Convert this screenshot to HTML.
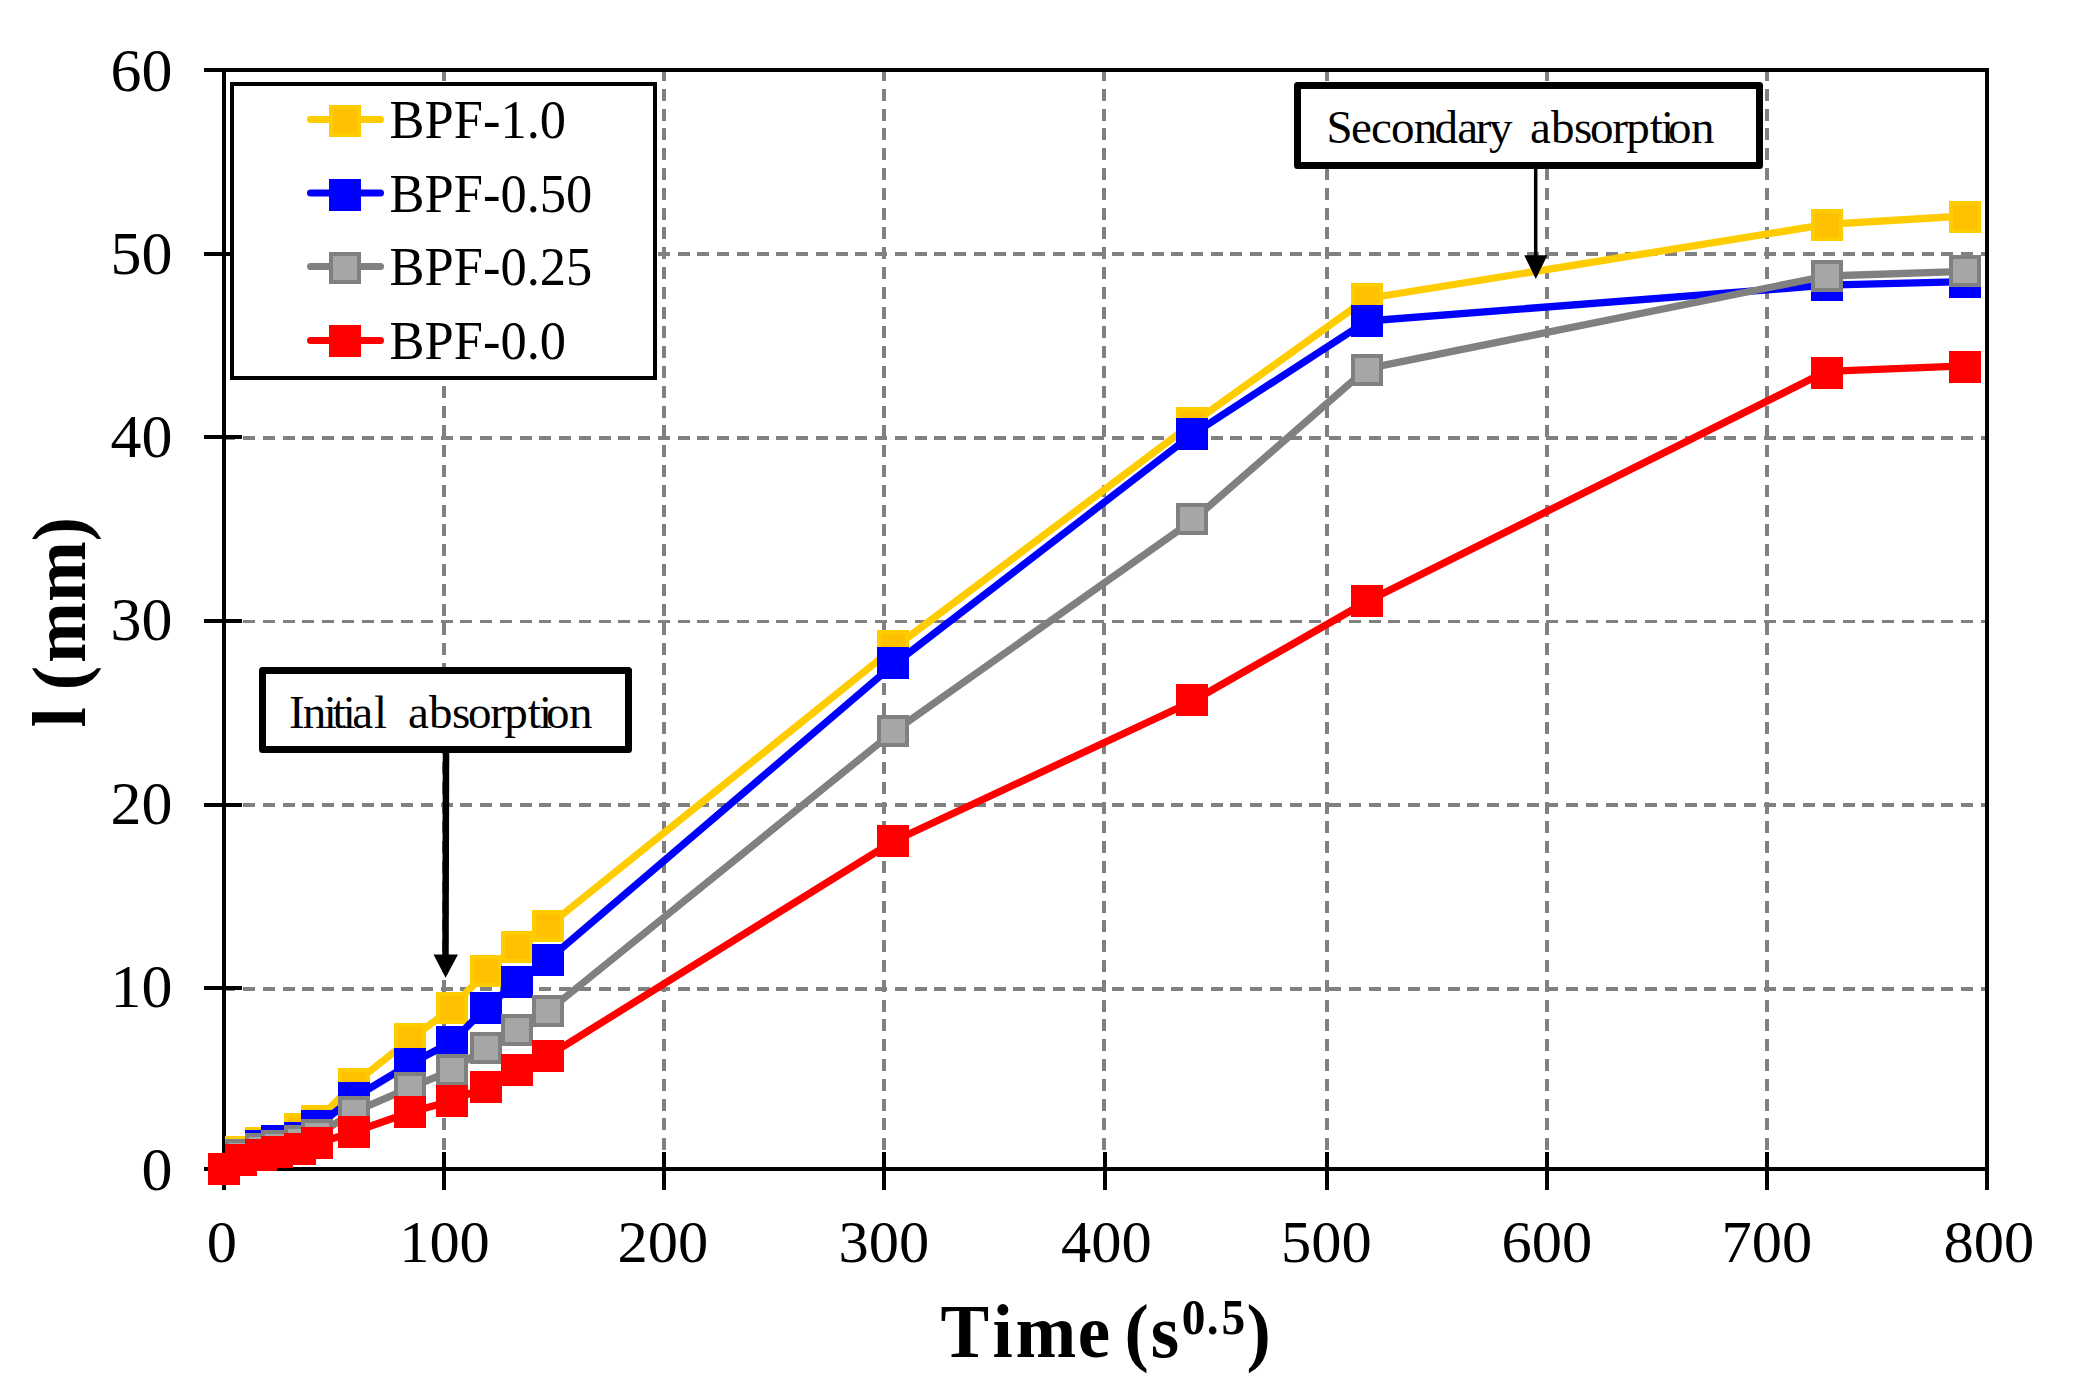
<!DOCTYPE html>
<html lang="en"><head><meta charset="utf-8"><title>Water absorption vs time</title>
<style>
html,body{margin:0;padding:0;background:#fff;}
body{width:2075px;height:1400px;overflow:hidden;}
svg{display:block;}
text{font-family:"Liberation Serif",serif;fill:#000;}
.tk{font-size:59px;}
.ty{font-size:61px;}
.lg{font-size:54px;}
.an{font-size:47px;}
.ti{font-size:77px;font-weight:bold;}
</style></head><body>
<svg width="2075" height="1400" viewBox="0 0 2075 1400">
<rect x="0" y="0" width="2075" height="1400" fill="#fff"/>
<g stroke="#808080" stroke-width="4" stroke-dasharray="12 7.8" fill="none" shape-rendering="crispEdges">
<line x1="444.00" y1="69" x2="444.00" y2="1150.5"/>
<line x1="664.00" y1="69" x2="664.00" y2="1150.5"/>
<line x1="884.00" y1="69" x2="884.00" y2="1150.5"/>
<line x1="1104.00" y1="69" x2="1104.00" y2="1150.5"/>
<line x1="1327.00" y1="69" x2="1327.00" y2="1150.5"/>
<line x1="1547.00" y1="69" x2="1547.00" y2="1150.5"/>
<line x1="1767.00" y1="69" x2="1767.00" y2="1150.5"/>
</g>
<g stroke="#808080" stroke-width="4" stroke-dasharray="12 7.748" fill="none" shape-rendering="crispEdges">
<line x1="223.35" y1="254.00" x2="1987" y2="254.00"/>
<line x1="223.35" y1="438.00" x2="1987" y2="438.00"/>
<line x1="223.35" y1="621.50" x2="1987" y2="621.50" stroke-width="3"/>
<line x1="223.35" y1="805.00" x2="1987" y2="805.00"/>
<line x1="223.35" y1="989.00" x2="1987" y2="989.00"/>
</g>
<g stroke="#000" stroke-width="4" fill="none" shape-rendering="crispEdges">
<line x1="204" y1="70" x2="1989" y2="70"/>
<line x1="204" y1="1169" x2="1989" y2="1169"/>
<line x1="224" y1="68" x2="224" y2="1190"/>
<line x1="1987" y1="68" x2="1987" y2="1190"/>
<line x1="444.00" y1="1152" x2="444.00" y2="1190"/>
<line x1="664.00" y1="1152" x2="664.00" y2="1190"/>
<line x1="884.00" y1="1152" x2="884.00" y2="1190"/>
<line x1="1105.00" y1="1152" x2="1105.00" y2="1190"/>
<line x1="1327.00" y1="1152" x2="1327.00" y2="1190"/>
<line x1="1547.00" y1="1152" x2="1547.00" y2="1190"/>
<line x1="1767.00" y1="1152" x2="1767.00" y2="1190"/>
<line x1="204" y1="253.60" x2="242" y2="253.60"/>
<line x1="204" y1="437.00" x2="242" y2="437.00"/>
<line x1="204" y1="621.00" x2="242" y2="621.00"/>
<line x1="204" y1="805.00" x2="242" y2="805.00"/>
<line x1="204" y1="988.00" x2="242" y2="988.00"/>
</g>
<g>
<polyline points="224.0,1169.0 241.0,1152.0 261.0,1143.0 277.0,1141.0 300.0,1129.0 317.0,1121.0 353.5,1084.0 410.3,1039.3 452.0,1008.1 486.0,971.4 517.0,946.5 548.2,926.0 892.5,649.0 1192.0,423.7 1367.0,298.5 1826.5,224.4 1965.0,216.0" fill="none" stroke="#FFCC00" stroke-width="7.3" stroke-linejoin="round"/>
<rect x="210.0" y="1155.0" width="28" height="28" fill="#FFC000" stroke="#FFCC00" stroke-width="4" shape-rendering="crispEdges"/>
<rect x="227.0" y="1138.0" width="28" height="28" fill="#FFC000" stroke="#FFCC00" stroke-width="4" shape-rendering="crispEdges"/>
<rect x="247.0" y="1129.0" width="28" height="28" fill="#FFC000" stroke="#FFCC00" stroke-width="4" shape-rendering="crispEdges"/>
<rect x="263.0" y="1127.0" width="28" height="28" fill="#FFC000" stroke="#FFCC00" stroke-width="4" shape-rendering="crispEdges"/>
<rect x="286.0" y="1115.0" width="28" height="28" fill="#FFC000" stroke="#FFCC00" stroke-width="4" shape-rendering="crispEdges"/>
<rect x="303.0" y="1107.0" width="28" height="28" fill="#FFC000" stroke="#FFCC00" stroke-width="4" shape-rendering="crispEdges"/>
<rect x="339.5" y="1070.0" width="28" height="28" fill="#FFC000" stroke="#FFCC00" stroke-width="4" shape-rendering="crispEdges"/>
<rect x="396.3" y="1025.3" width="28" height="28" fill="#FFC000" stroke="#FFCC00" stroke-width="4" shape-rendering="crispEdges"/>
<rect x="438.0" y="994.1" width="28" height="28" fill="#FFC000" stroke="#FFCC00" stroke-width="4" shape-rendering="crispEdges"/>
<rect x="472.0" y="957.4" width="28" height="28" fill="#FFC000" stroke="#FFCC00" stroke-width="4" shape-rendering="crispEdges"/>
<rect x="503.0" y="932.5" width="28" height="28" fill="#FFC000" stroke="#FFCC00" stroke-width="4" shape-rendering="crispEdges"/>
<rect x="534.2" y="912.0" width="28" height="28" fill="#FFC000" stroke="#FFCC00" stroke-width="4" shape-rendering="crispEdges"/>
<rect x="878.5" y="632.0" width="28" height="28" fill="#FFC000" stroke="#FFCC00" stroke-width="4" shape-rendering="crispEdges"/>
<rect x="1178.0" y="409.0" width="28" height="28" fill="#FFC000" stroke="#FFCC00" stroke-width="4" shape-rendering="crispEdges"/>
<rect x="1353.0" y="285.0" width="28" height="28" fill="#FFC000" stroke="#FFCC00" stroke-width="4" shape-rendering="crispEdges"/>
<rect x="1812.5" y="211.4" width="28" height="28" fill="#FFC000" stroke="#FFCC00" stroke-width="4" shape-rendering="crispEdges"/>
<rect x="1951.0" y="203.0" width="28" height="28" fill="#FFC000" stroke="#FFCC00" stroke-width="4" shape-rendering="crispEdges"/>
</g>
<g>
<polyline points="224.0,1169.0 241.0,1155.2 261.0,1145.7 277.0,1140.8 300.0,1138.0 317.0,1126.0 353.5,1098.0 410.3,1063.8 452.0,1041.9 486.0,1007.7 517.0,981.8 548.2,959.8 892.5,665.5 1192.0,434.7 1367.0,321.0 1826.5,285.2 1965.0,281.7" fill="none" stroke="#0000FF" stroke-width="7.3" stroke-linejoin="round"/>
<rect x="210.0" y="1155.0" width="28" height="28" fill="#0000FF" stroke="#0000FF" stroke-width="4" shape-rendering="crispEdges"/>
<rect x="227.0" y="1141.2" width="28" height="28" fill="#0000FF" stroke="#0000FF" stroke-width="4" shape-rendering="crispEdges"/>
<rect x="247.0" y="1131.7" width="28" height="28" fill="#0000FF" stroke="#0000FF" stroke-width="4" shape-rendering="crispEdges"/>
<rect x="263.0" y="1126.8" width="28" height="28" fill="#0000FF" stroke="#0000FF" stroke-width="4" shape-rendering="crispEdges"/>
<rect x="286.0" y="1124.0" width="28" height="28" fill="#0000FF" stroke="#0000FF" stroke-width="4" shape-rendering="crispEdges"/>
<rect x="303.0" y="1112.0" width="28" height="28" fill="#0000FF" stroke="#0000FF" stroke-width="4" shape-rendering="crispEdges"/>
<rect x="339.5" y="1084.0" width="28" height="28" fill="#0000FF" stroke="#0000FF" stroke-width="4" shape-rendering="crispEdges"/>
<rect x="396.3" y="1049.8" width="28" height="28" fill="#0000FF" stroke="#0000FF" stroke-width="4" shape-rendering="crispEdges"/>
<rect x="438.0" y="1027.9" width="28" height="28" fill="#0000FF" stroke="#0000FF" stroke-width="4" shape-rendering="crispEdges"/>
<rect x="472.0" y="993.7" width="28" height="28" fill="#0000FF" stroke="#0000FF" stroke-width="4" shape-rendering="crispEdges"/>
<rect x="503.0" y="967.8" width="28" height="28" fill="#0000FF" stroke="#0000FF" stroke-width="4" shape-rendering="crispEdges"/>
<rect x="534.2" y="945.8" width="28" height="28" fill="#0000FF" stroke="#0000FF" stroke-width="4" shape-rendering="crispEdges"/>
<rect x="878.5" y="648.5" width="28" height="28" fill="#0000FF" stroke="#0000FF" stroke-width="4" shape-rendering="crispEdges"/>
<rect x="1178.0" y="420.0" width="28" height="28" fill="#0000FF" stroke="#0000FF" stroke-width="4" shape-rendering="crispEdges"/>
<rect x="1353.0" y="307.0" width="28" height="28" fill="#0000FF" stroke="#0000FF" stroke-width="4" shape-rendering="crispEdges"/>
<rect x="1812.5" y="271.2" width="28" height="28" fill="#0000FF" stroke="#0000FF" stroke-width="4" shape-rendering="crispEdges"/>
<rect x="1951.0" y="267.7" width="28" height="28" fill="#0000FF" stroke="#0000FF" stroke-width="4" shape-rendering="crispEdges"/>
</g>
<g>
<polyline points="224.0,1169.0 241.0,1155.2 261.0,1149.0 277.0,1146.3 300.0,1141.0 317.0,1135.2 353.5,1112.2 410.3,1087.6 452.0,1070.3 486.0,1047.5 517.0,1030.2 548.2,1011.0 892.5,732.5 1192.0,521.0 1367.0,368.6 1826.5,276.0 1965.0,271.3" fill="none" stroke="#808080" stroke-width="7.3" stroke-linejoin="round"/>
<rect x="210.0" y="1155.0" width="28" height="28" fill="#A6A6A6" stroke="#808080" stroke-width="4" shape-rendering="crispEdges"/>
<rect x="227.0" y="1141.2" width="28" height="28" fill="#A6A6A6" stroke="#808080" stroke-width="4" shape-rendering="crispEdges"/>
<rect x="247.0" y="1135.0" width="28" height="28" fill="#A6A6A6" stroke="#808080" stroke-width="4" shape-rendering="crispEdges"/>
<rect x="263.0" y="1132.3" width="28" height="28" fill="#A6A6A6" stroke="#808080" stroke-width="4" shape-rendering="crispEdges"/>
<rect x="286.0" y="1127.0" width="28" height="28" fill="#A6A6A6" stroke="#808080" stroke-width="4" shape-rendering="crispEdges"/>
<rect x="303.0" y="1121.2" width="28" height="28" fill="#A6A6A6" stroke="#808080" stroke-width="4" shape-rendering="crispEdges"/>
<rect x="339.5" y="1098.2" width="28" height="28" fill="#A6A6A6" stroke="#808080" stroke-width="4" shape-rendering="crispEdges"/>
<rect x="396.3" y="1073.6" width="28" height="28" fill="#A6A6A6" stroke="#808080" stroke-width="4" shape-rendering="crispEdges"/>
<rect x="438.0" y="1056.3" width="28" height="28" fill="#A6A6A6" stroke="#808080" stroke-width="4" shape-rendering="crispEdges"/>
<rect x="472.0" y="1033.5" width="28" height="28" fill="#A6A6A6" stroke="#808080" stroke-width="4" shape-rendering="crispEdges"/>
<rect x="503.0" y="1016.2" width="28" height="28" fill="#A6A6A6" stroke="#808080" stroke-width="4" shape-rendering="crispEdges"/>
<rect x="534.2" y="997.0" width="28" height="28" fill="#A6A6A6" stroke="#808080" stroke-width="4" shape-rendering="crispEdges"/>
<rect x="878.5" y="717.0" width="28" height="28" fill="#A6A6A6" stroke="#808080" stroke-width="4" shape-rendering="crispEdges"/>
<rect x="1178.0" y="505.0" width="28" height="28" fill="#A6A6A6" stroke="#808080" stroke-width="4" shape-rendering="crispEdges"/>
<rect x="1353.0" y="355.6" width="28" height="28" fill="#A6A6A6" stroke="#808080" stroke-width="4" shape-rendering="crispEdges"/>
<rect x="1812.5" y="262.0" width="28" height="28" fill="#A6A6A6" stroke="#808080" stroke-width="4" shape-rendering="crispEdges"/>
<rect x="1951.0" y="257.3" width="28" height="28" fill="#A6A6A6" stroke="#808080" stroke-width="4" shape-rendering="crispEdges"/>
</g>
<g>
<polyline points="224.0,1169.0 241.0,1160.0 261.0,1154.9 277.0,1152.0 300.0,1148.8 317.0,1143.4 353.5,1132.0 410.3,1112.3 452.0,1100.7 486.0,1087.0 517.0,1070.0 548.2,1055.8 892.5,841.8 1192.0,701.5 1367.0,601.5 1826.5,371.3 1965.0,365.8" fill="none" stroke="#FF0000" stroke-width="7.3" stroke-linejoin="round"/>
<rect x="210.0" y="1155.0" width="28" height="28" fill="#FF0000" stroke="#FF0000" stroke-width="4" shape-rendering="crispEdges"/>
<rect x="227.0" y="1146.0" width="28" height="28" fill="#FF0000" stroke="#FF0000" stroke-width="4" shape-rendering="crispEdges"/>
<rect x="247.0" y="1140.9" width="28" height="28" fill="#FF0000" stroke="#FF0000" stroke-width="4" shape-rendering="crispEdges"/>
<rect x="263.0" y="1138.0" width="28" height="28" fill="#FF0000" stroke="#FF0000" stroke-width="4" shape-rendering="crispEdges"/>
<rect x="286.0" y="1134.8" width="28" height="28" fill="#FF0000" stroke="#FF0000" stroke-width="4" shape-rendering="crispEdges"/>
<rect x="303.0" y="1129.4" width="28" height="28" fill="#FF0000" stroke="#FF0000" stroke-width="4" shape-rendering="crispEdges"/>
<rect x="339.5" y="1118.0" width="28" height="28" fill="#FF0000" stroke="#FF0000" stroke-width="4" shape-rendering="crispEdges"/>
<rect x="396.3" y="1098.3" width="28" height="28" fill="#FF0000" stroke="#FF0000" stroke-width="4" shape-rendering="crispEdges"/>
<rect x="438.0" y="1086.7" width="28" height="28" fill="#FF0000" stroke="#FF0000" stroke-width="4" shape-rendering="crispEdges"/>
<rect x="472.0" y="1073.0" width="28" height="28" fill="#FF0000" stroke="#FF0000" stroke-width="4" shape-rendering="crispEdges"/>
<rect x="503.0" y="1056.0" width="28" height="28" fill="#FF0000" stroke="#FF0000" stroke-width="4" shape-rendering="crispEdges"/>
<rect x="534.2" y="1041.8" width="28" height="28" fill="#FF0000" stroke="#FF0000" stroke-width="4" shape-rendering="crispEdges"/>
<rect x="878.5" y="826.8" width="28" height="28" fill="#FF0000" stroke="#FF0000" stroke-width="4" shape-rendering="crispEdges"/>
<rect x="1178.0" y="686.0" width="28" height="28" fill="#FF0000" stroke="#FF0000" stroke-width="4" shape-rendering="crispEdges"/>
<rect x="1353.0" y="587.0" width="28" height="28" fill="#FF0000" stroke="#FF0000" stroke-width="4" shape-rendering="crispEdges"/>
<rect x="1812.5" y="358.5" width="28" height="28" fill="#FF0000" stroke="#FF0000" stroke-width="4" shape-rendering="crispEdges"/>
<rect x="1951.0" y="353.0" width="28" height="28" fill="#FF0000" stroke="#FF0000" stroke-width="4" shape-rendering="crispEdges"/>
</g>
<rect x="232" y="84" width="423" height="294" fill="#fff" stroke="#000" stroke-width="4" shape-rendering="crispEdges"/>
<line x1="310.5" y1="119.5" x2="380.5" y2="119.5" stroke="#FFCC00" stroke-width="7" stroke-linecap="round"/>
<rect x="331.0" y="107.0" width="28" height="28" fill="#FFC000" stroke="#FFCC00" stroke-width="4" shape-rendering="crispEdges"/>
<text class="lg" transform="translate(389.60,138.00) scale(0.9720,1)">BPF-1.0</text>
<line x1="310.5" y1="193.0" x2="380.5" y2="193.0" stroke="#0000FF" stroke-width="7" stroke-linecap="round"/>
<rect x="331.0" y="180.5" width="28" height="28" fill="#0000FF" stroke="#0000FF" stroke-width="4" shape-rendering="crispEdges"/>
<text class="lg" transform="translate(389.60,211.60) scale(0.9720,1)">BPF-0.50</text>
<line x1="310.5" y1="266.4" x2="380.5" y2="266.4" stroke="#808080" stroke-width="7" stroke-linecap="round"/>
<rect x="331.0" y="254.0" width="28" height="28" fill="#A6A6A6" stroke="#808080" stroke-width="4" shape-rendering="crispEdges"/>
<text class="lg" transform="translate(389.60,285.00) scale(0.9720,1)">BPF-0.25</text>
<line x1="310.5" y1="340.5" x2="380.5" y2="340.5" stroke="#FF0000" stroke-width="7" stroke-linecap="round"/>
<rect x="331.0" y="327.0" width="28" height="28" fill="#FF0000" stroke="#FF0000" stroke-width="4" shape-rendering="crispEdges"/>
<text class="lg" transform="translate(389.60,358.60) scale(0.9720,1)">BPF-0.0</text>
<rect x="262.5" y="670.5" width="366" height="79" fill="#fff" stroke="#000" stroke-width="7" stroke-linejoin="round"/>
<text class="an" y="728.3"><tspan x="289.0 302.7 323.8 332.5 342.7 352.3 374.0">Initial</tspan> <tspan x="408.0 428.9 451.9 468.1 490.2 504.3 527.7 538.9 546.1 569.0">absorption</tspan></text>
<line x1="446" y1="753" x2="445.5" y2="957" stroke="#000" stroke-width="6.5"/>
<polygon points="433.5,954.5 458,954.5 445.6,977.8" fill="#000"/>
<rect x="1297.5" y="85.5" width="462" height="80" fill="#fff" stroke="#000" stroke-width="7" stroke-linejoin="round"/>
<text class="an" y="142.6"><tspan x="1326.5 1351.0 1371.0 1391.0 1413.8 1434.4 1457.2 1475.7 1489.0">Secondary</tspan> <tspan x="1530.0 1550.9 1573.9 1590.1 1612.2 1626.3 1649.7 1660.9 1668.1 1691.0">absorption</tspan></text>
<line x1="1535.7" y1="169" x2="1535.7" y2="258" stroke="#000" stroke-width="3.5"/>
<polygon points="1524.2,255.3 1547.4,255.3 1535.8,279" fill="#000"/>
<text class="tk" transform="translate(221.90,1261.50) scale(1.0250,1)" text-anchor="middle">0</text>
<text class="tk" transform="translate(444.50,1261.50) scale(1.0250,1)" text-anchor="middle">100</text>
<text class="tk" transform="translate(662.90,1261.50) scale(1.0250,1)" text-anchor="middle">200</text>
<text class="tk" transform="translate(883.90,1261.50) scale(1.0250,1)" text-anchor="middle">300</text>
<text class="tk" transform="translate(1106.30,1261.50) scale(1.0250,1)" text-anchor="middle">400</text>
<text class="tk" transform="translate(1326.40,1261.50) scale(1.0250,1)" text-anchor="middle">500</text>
<text class="tk" transform="translate(1546.80,1261.50) scale(1.0250,1)" text-anchor="middle">600</text>
<text class="tk" transform="translate(1766.80,1261.50) scale(1.0250,1)" text-anchor="middle">700</text>
<text class="tk" transform="translate(1988.80,1261.50) scale(1.0250,1)" text-anchor="middle">800</text>
<text class="ty" transform="translate(172.40,90.80) scale(1.0150,1)" text-anchor="end">60</text>
<text class="ty" transform="translate(172.40,273.90) scale(1.0150,1)" text-anchor="end">50</text>
<text class="ty" transform="translate(172.40,456.80) scale(1.0150,1)" text-anchor="end">40</text>
<text class="ty" transform="translate(172.40,639.70) scale(1.0150,1)" text-anchor="end">30</text>
<text class="ty" transform="translate(172.40,823.70) scale(1.0150,1)" text-anchor="end">20</text>
<text class="ty" transform="translate(172.40,1007.00) scale(1.0150,1)" text-anchor="end">10</text>
<text class="ty" transform="translate(172.40,1189.70) scale(1.0150,1)" text-anchor="end">0</text>
<text class="ti" transform="translate(940.50,1357.1) scale(0.9470,1)"><tspan x="0.00 55.02 79.30 144.98 169.48 194.19 222.07">Time (s</tspan><tspan x="254.70 281.15 296.83" dy="-23.6" font-size="50">0.5</tspan><tspan x="323.13" dy="23.6">)</tspan></text>
<text class="ti" transform="translate(85,727.5) rotate(-90) scale(0.9470,1)"><tspan x="0.00 21.12 39.28 68.11 132.52 196.62">l (mm)</tspan></text>
</svg></body></html>
